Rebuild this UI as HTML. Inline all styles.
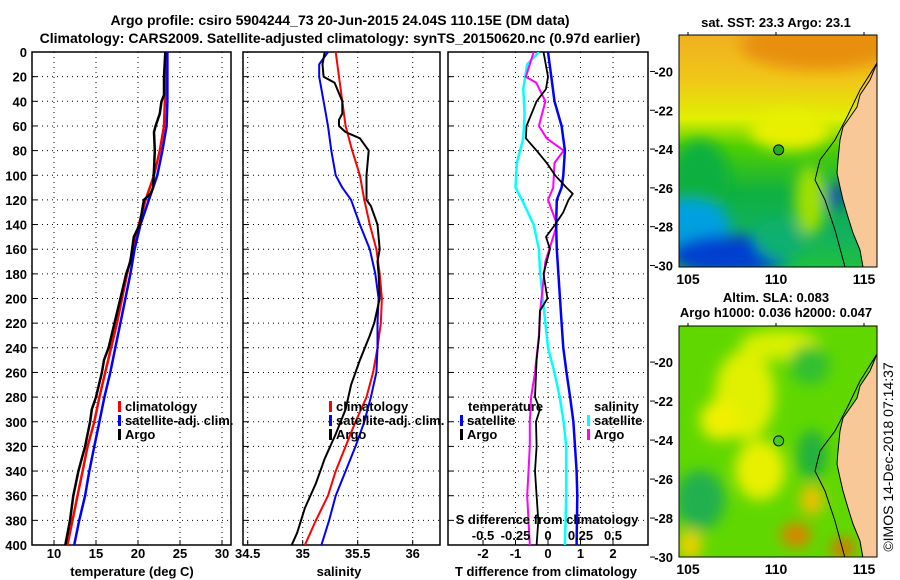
<!DOCTYPE html>
<html><head><meta charset="utf-8"><style>
html,body{margin:0;padding:0;background:#fff;}
svg{display:block;font-family:"Liberation Sans",sans-serif;font-weight:bold;}
</style></head><body>
<svg id="c" width="900" height="580" viewBox="0 0 900 580" xmlns="http://www.w3.org/2000/svg">
<defs>
<clipPath id="cp1"><rect x="32" y="52" width="199" height="493"/></clipPath>
<clipPath id="cp2"><rect x="243" y="52" width="197" height="493"/></clipPath>
<clipPath id="cp3"><rect x="448" y="52" width="200" height="493"/></clipPath>
<clipPath id="cm1"><rect x="679" y="35" width="198" height="232"/></clipPath>
<clipPath id="cm2"><rect x="679" y="326" width="198" height="231"/></clipPath>
<filter id="bl" x="-50%" y="-50%" width="200%" height="200%"><feGaussianBlur stdDeviation="7"/></filter>
<linearGradient id="sstg" x1="0" y1="0" x2="0" y2="1">
<stop offset="0" stop-color="#f0b020"/><stop offset="0.2" stop-color="#f0c818"/><stop offset="0.36" stop-color="#e0f000"/>
<stop offset="0.48" stop-color="#50d000"/><stop offset="0.68" stop-color="#10b040"/><stop offset="0.85" stop-color="#10b060"/><stop offset="1" stop-color="#20c040"/>
</linearGradient>
</defs>
<g font-size="14" text-anchor="middle">
<text x="340" y="25">Argo profile: csiro 5904244_73 20-Jun-2015 24.04S 110.15E (DM data)</text>
<text x="340" y="43">Climatology: CARS2009. Satellite-adjusted climatology: synTS_20150620.nc (0.97d earlier)</text>
</g>
<g id="panels"></g>
<g id="maps"></g>
</svg>
<script>
// depth axis
const depthTicks=[0,20,40,60,80,100,120,140,160,180,200,220,240,260,280,300,320,340,360,380,400];
// panel 1: temperature
const tTicks=[10,15,20,25,30];
const tClimD=[0,60,80,100,120,140,160,180,200,220,240,260,280,300,320,340,360,380,400];
const tClimV=[23.4,23.1,22.6,21.9,20.9,20.1,19.4,18.7,18.1,17.5,16.8,16.1,15.4,14.8,14.0,13.4,12.8,12.2,11.6];
const tSatD=[0,40,60,80,100,120,140,160,180,200,220,240,260,280,300,320,340,360,380,400];
const tSatV=[23.5,23.5,23.4,22.9,22.3,21.3,20.3,19.6,19.1,18.5,17.9,17.3,16.7,16.0,15.4,14.8,14.2,13.7,13.0,12.4];
const tArgoD=[0,20,35,40,50,60,65,80,95,110,115,120,140,150,170,180,200,220,240,250,260,280,290,300,320,340,360,380,400];
const tArgoV=[23.25,23.1,23.1,22.8,22.6,22.1,21.9,22.0,21.9,21.8,21.5,20.7,20.2,19.5,19.1,18.6,17.9,17.2,16.5,15.95,15.7,15.0,14.5,14.3,13.7,12.9,12.3,11.9,11.35];
// panel 2: salinity
const sTicks=[34.5,35,35.5,36];
const sTickLabels=["34.5","35","35.5","36"];
const sClimD=[0,20,40,60,80,100,120,140,160,180,200,220,240,260,280,300,320,340,360,380,400];
const sClimV=[35.30,35.33,35.36,35.39,35.45,35.52,35.56,35.61,35.67,35.70,35.72,35.71,35.68,35.64,35.58,35.48,35.39,35.30,35.23,35.12,35.02];
const sSatD=[0,10,20,40,60,80,100,110,120,140,160,180,200,220,240,260,280,300,320,340,360,380,400];
const sSatV=[35.23,35.15,35.15,35.19,35.23,35.26,35.30,35.36,35.44,35.52,35.61,35.66,35.69,35.68,35.68,35.67,35.62,35.56,35.48,35.39,35.30,35.24,35.17];
const sArgoD=[0,10,20,25,40,50,55,60,65,70,80,100,120,125,140,160,170,180,200,220,230,250,270,290,310,330,350,370,390,400];
const sArgoV=[35.20,35.18,35.19,35.29,35.36,35.36,35.33,35.33,35.39,35.52,35.60,35.58,35.58,35.62,35.68,35.70,35.68,35.69,35.70,35.65,35.61,35.52,35.44,35.39,35.30,35.20,35.12,35.02,34.95,34.90];
// panel 3: differences
const dTTicks=[-2,-1,0,1,2];
const dSTicks=[-0.5,-0.25,0,0.25,0.5];
const dSTickLabels=["-0.5","-0.25","0","0.25","0.5"];
const dTSatD=[0,20,40,60,80,100,110,120,140,160,180,200,220,240,260,280,300,320,340,360,400];
const dTSatV=[0,0.1,0.2,0.42,0.52,0.47,0.42,0.27,0.25,0.27,0.32,0.37,0.42,0.47,0.57,0.68,0.78,0.83,0.88,0.90,0.88];
const dTArgoD=[0,20,30,40,60,70,80,90,100,110,115,120,130,140,150,160,170,180,200,210,230,250,280,290,300,320,340,360,380,400];
const dTArgoV=[-0.14,0,-0.06,-0.35,-0.66,-0.68,-0.35,-0.04,0.22,0.57,0.76,0.63,0.47,0.22,-0.06,0.06,-0.04,-0.14,-0.02,-0.25,-0.27,-0.35,-0.40,-0.25,-0.37,-0.35,-0.40,-0.35,-0.30,-0.35];
const dSSatD=[0,10,30,50,70,90,110,120,140,160,180,200,220,240,260,280,300,320,340,360,400];
const dSSatV=[-0.07,-0.16,-0.19,-0.18,-0.19,-0.24,-0.25,-0.20,-0.11,-0.07,-0.06,-0.04,-0.02,0,0.05,0.09,0.12,0.14,0.14,0.14,0.13];
const dSArgoD=[0,20,25,40,60,70,80,90,110,120,140,150,170,190,210,230,260,280,300,320,360,400];
const dSArgoV=[-0.11,-0.17,-0.09,-0.02,-0.07,-0.01,0.12,0.05,0.04,0,0.07,0.04,-0.02,-0.04,-0.06,-0.07,-0.10,-0.13,-0.14,-0.14,-0.16,-0.14];
// maps
const lonTicks=[105,110,115];
const latTicks=[-20,-22,-24,-26,-28,-30];
const argoLon=110.15, argoLat=-24.04;

const NS="http://www.w3.org/2000/svg";
const root=document.getElementById('panels');
function mk(tag,attrs,parent,txt){const e=document.createElementNS(NS,tag);for(const k in attrs)e.setAttribute(k,attrs[k]);if(txt!==undefined)e.textContent=txt;(parent||root).appendChild(e);return e;}
const Y0=52, Y1=545;
const yD=d=>Y0+d*(Y1-Y0)/400;
const xT=v=>54+(v-10)*8.4;
const xS=v=>302.7+(v-35)*110;
const xDT=v=>548+v*32.5;
const xDS=v=>548+v*130;

function frame(x0,x1,name,leftLabels){
  const g=mk('g',{});
  
  
  depthTicks.forEach(d=>{
    const y=yD(d);
    if(d>0&&d<400){const l=mk('line',{x1:x0,x2:x1,y1:y,y2:y,stroke:'#000','stroke-width':1,'stroke-dasharray':'1,4'},g);}
    const t=mk('line',{x1:x0,x2:x0+5,y1:y,y2:y,stroke:'#000','stroke-width':1},g);
    
    if(leftLabels){const tx=mk('text',{x:27,y:y+5,'font-size':13,'text-anchor':'end'},g,String(d));}
  });
  const r=mk('rect',{x:x0,y:Y0,width:x1-x0,height:Y1-Y0,fill:'none',stroke:'#000','stroke-width':1.5},g);
  
  return g;
}
function vgrid(g,vals,fx,labels,ly){
  vals.forEach((v,i)=>{const x=fx(v);
    const l=mk('line',{x1:x,x2:x,y1:Y0,y2:Y1,stroke:'#000','stroke-width':1,'stroke-dasharray':'1,4'},g);
    
    const t=mk('line',{x1:x,x2:x,y1:Y1-5,y2:Y1,stroke:'#000'},g);
    if(labels){const tx=mk('text',{x:x,y:ly,'font-size':13,'text-anchor':'middle'},g,labels[i]);}
  });
}
function series(g,ds,vs,fx,color,w,clip,name){
  const p=ds.map((d,i)=>(i?'L':'M')+fx(vs[i]).toFixed(1)+','+yD(d).toFixed(1)).join('');
  const e=mk('path',{d:p,fill:'none',stroke:color,'stroke-width':w,'clip-path':'url(#'+clip+')','stroke-linejoin':'round'},g);
  
}
function legend(g,items,mx,y0){
  items.forEach((it,i)=>{const y=y0+i*14;
    const m=mk('rect',{x:mx,y:y-10,width:3,height:11,fill:it[1]},g);
    const t=mk('text',{x:mx+7,y:y,'font-size':13},g,it[0]);});
}
function label(g,x,y,txt,name,anchor){const t=mk('text',{x:x,y:y,'font-size':13,'text-anchor':anchor||'middle'},g,txt);return t;}

const TL=558, XT=576;
// Panel 1
const g1=frame(32,231,'temperature-panel',true);
vgrid(g1,tTicks,xT,tTicks.map(String),TL);
series(g1,tClimD,tClimV,xT,'#ff0000',2.5,'cp1','temp-climatology-line');
series(g1,tSatD,tSatV,xT,'#0000ff',2.5,'cp1','temp-satellite-line');
series(g1,tArgoD,tArgoV,xT,'#000',2.5,'cp1','temp-argo-line');
legend(g1,[['climatology','#ff0000'],['satellite-adj. clim.','#0000ff'],['Argo','#000']],118,411);
label(g1,132,XT,'temperature (deg C)','x-axis-title-temperature');
// Panel 2
const g2=frame(243,440,'salinity-panel',false);
vgrid(g2,sTicks,xS,sTickLabels,TL);
series(g2,sClimD,sClimV,xS,'#ff0000',2,'cp2','sal-climatology-line');
series(g2,sSatD,sSatV,xS,'#0000ff',2,'cp2','sal-satellite-line');
series(g2,sArgoD,sArgoV,xS,'#000',2,'cp2','sal-argo-line');
legend(g2,[['climatology','#ff0000'],['satellite-adj. clim.','#0000ff'],['Argo','#000']],329,411);
label(g2,339,XT,'salinity','x-axis-title-salinity');
// Panel 3
const g3=frame(448,648,'difference-panel',false);
vgrid(g3,dTTicks,xDT,dTTicks.map(String),TL);
series(g3,dSSatD,dSSatV,xDS,'#00ffff',2.5,'cp3','sal-diff-satellite-line');
series(g3,dSArgoD,dSArgoV,xDS,'#ff00ff',2,'cp3','sal-diff-argo-line');
series(g3,dTSatD,dTSatV,xDT,'#0000ff',2.5,'cp3','temp-diff-satellite-line');
series(g3,dTArgoD,dTArgoV,xDT,'#000',1.8,'cp3','temp-diff-argo-line');
label(g3,468,411,'temperature','legend-title-temperature','start');
legend(g3,[['satellite','#0000ff'],['Argo','#000']],460,425);
label(g3,594,411,'salinity','legend-title-salinity','start');
legend(g3,[['satellite','#00ffff'],['Argo','#ff00ff']],587,425);
label(g3,547,524,'S difference from climatology','s-axis-title');
dSTicks.forEach((v,i)=>label(g3,xDS(v),540,dSTickLabels[i],'s-tick-label'));
label(g3,546,XT,'T difference from climatology','x-axis-title-tdiff');

// Maps
const mroot=document.getElementById('maps');
const coast=[[877,63],[870,80],[860,95],[857,107],[848,120],[843,127],[840,140],[838,160],[837,173],[840,187],[843,200],[848,217],[853,233],[860,250],[863,267]];
const shelf=[[877,63],[860,90],[848,115],[835,140],[820,160],[815,180],[825,200],[835,230],[845,267]];
function map(y0,y1,latTop,latSc,clip,name,isSst){
  const g=mk('g',{},mroot);
  
  const dy=y0-35;
  const inner=mk('g',{'clip-path':'url(#'+clip+')'},g);
  if(isSst){
    mk('rect',{x:679,y:35,width:198,height:232,fill:'url(#sstg)'},inner);
    const b=mk('g',{filter:'url(#bl)'},inner);
    mk('ellipse',{cx:820,cy:45,rx:80,ry:25,fill:'#e89010'},b);
    mk('ellipse',{cx:790,cy:130,rx:40,ry:20,fill:'#e8f000'},b);
    mk('ellipse',{cx:700,cy:180,rx:30,ry:40,fill:'#10b040'},b);
    mk('ellipse',{cx:690,cy:225,rx:40,ry:25,fill:'#00a0e0'},b);
    mk('ellipse',{cx:730,cy:255,rx:60,ry:20,fill:'#0040d0'},b);
    mk('ellipse',{cx:780,cy:240,rx:25,ry:20,fill:'#10b070'},b);
    mk('ellipse',{cx:810,cy:200,rx:15,ry:35,fill:'#a0e000'},b);
    mk('ellipse',{cx:835,cy:196,rx:7,ry:14,fill:'#0030c0'},b);
  } else {
    mk('rect',{x:679,y:326,width:198,height:231,fill:'#60d800'},inner);
    const b=mk('g',{filter:'url(#bl)'},inner);
    [[745,395,30,45,'#e0f000'],[780,345,40,15,'#d8f000'],[720,420,20,20,'#f0f000'],[760,470,25,30,'#e8f000'],[810,365,20,20,'#30c030'],[700,500,25,30,'#20b050'],[812,455,15,25,'#20b040'],[812,500,12,15,'#f0c000'],[796,535,15,12,'#e08000'],[843,548,12,10,'#e07000'],[690,545,12,15,'#f0d000']].forEach(a=>mk('ellipse',{cx:a[0],cy:a[1],rx:a[2],ry:a[3],fill:a[4]},b));
  }
  const land='M877,'+(63+dy)+coast.map(p=>'L'+p[0]+','+(p[1]+dy)).join('')+'L877,'+(267+dy)+'Z';
  const lp=mk('path',{d:land,fill:'#f8c898',stroke:'none'},inner);
  const cl=mk('path',{d:'M'+coast.map(p=>p[0]+','+(p[1]+dy)).join('L'),fill:'none',stroke:'#000','stroke-width':1},inner);
  const sh=mk('path',{d:'M'+shelf.map(p=>p[0]+','+(p[1]+dy)).join('L'),fill:'none',stroke:'#000','stroke-width':1},inner);
  const fx=lon=>688+(lon-105)*17.6;
  const fy=lat=>y0+(latTop-lat)*latSc;
  const mc=mk('circle',{cx:fx(argoLon),cy:fy(argoLat),r:5,fill:isSst?'#20b020':'#40d020',stroke:'#000','stroke-width':1},g);
  
  const r=mk('rect',{x:679,y:y0,width:198,height:y1-y0,fill:'none',stroke:'#000','stroke-width':1},g);
  
  lonTicks.forEach(l=>{const t=label(g,fx(l),y1+17,String(l),'lon-tick-label');t.setAttribute('font-size',14);
    mk('line',{x1:fx(l),x2:fx(l),y1:y0-3,y2:y0,stroke:'#000'},g);});
  latTicks.forEach(l=>{label(g,673,fy(l)+5,String(l),'lat-tick-label','end');
    mk('line',{x1:650,x2:655,y1:fy(l),y2:fy(l),stroke:'#000'},g);});
}
map(35,267,-18.12,19.4,'cm1','sst-map',true);
map(326,557,-18.15,19.5,'cm2','sla-map',false);
const mt=document.getElementById('maps');
label(mt,776,27,'sat. SST: 23.3 Argo: 23.1','sst-map-title');
label(mt,776,302,'Altim. SLA: 0.083','sla-map-title');
label(mt,776,317,'Argo h1000: 0.036 h2000: 0.047','sla-map-subtitle');
const cr=label(mt,0,0,'©IMOS 14-Dec-2018 07:14:37','copyright');
cr.setAttribute('font-weight','normal');cr.setAttribute('font-size',14);
cr.setAttribute('transform','translate(893,457) rotate(-90)');
</script>
</body></html>
